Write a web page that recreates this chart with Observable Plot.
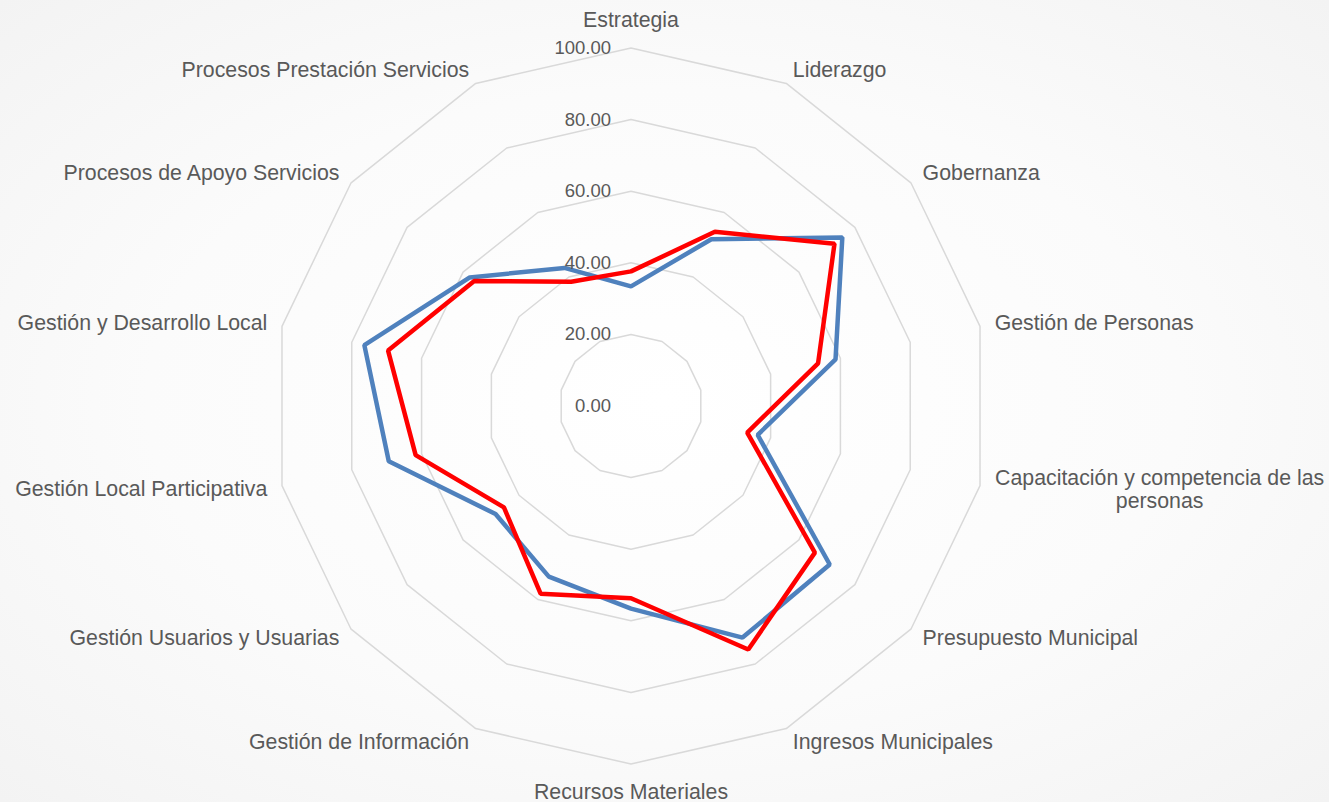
<!DOCTYPE html>
<html>
<head>
<meta charset="utf-8">
<script src="https://cdn.jsdelivr.net/npm/d3@7"></script>
<script src="https://cdn.jsdelivr.net/npm/@observablehq/plot@0.6"></script>
<style>
  html, body { margin: 0; padding: 0; width: 1329px; height: 802px; overflow: hidden; }
  body { background: radial-gradient(ellipse at 50% 50%, #ffffff 0%, #fbfbfb 55%, #f3f3f3 100%); }
</style>
</head>
<body>
<div id="chart"></div>
<script>
// ---- data ----
const categories = [
  "Estrategia",
  "Liderazgo",
  "Gobernanza",
  "Gestión de Personas",
  "Capacitación y competencia de las personas",
  "Presupuesto Municipal",
  "Ingresos Municipales",
  "Recursos Materiales",
  "Gestión de Información",
  "Gestión Usuarios y Usuarias",
  "Gestión Local Participativa",
  "Gestión y Desarrollo Local",
  "Procesos de Apoyo Servicios",
  "Procesos Prestación Servicios"
];
const serieAzul = [33.4, 51.7, 75.5, 58.6, 36.3, 71.0, 71.8, 56.6, 52.9, 48.4, 69.4, 76.4, 57.6, 42.8];
const serieRoja = [37.6, 54.0, 72.7, 53.6, 33.3, 65.7, 75.5, 53.7, 58.2, 45.4, 61.7, 69.6, 56.0, 38.5];
const seriesNames = ["Serie 1", "Serie 2"];
const seriesColors = ["#4f81bd", "#ff0000"];
const tickValues = [0, 20, 40, 60, 80, 100];
const tickLabels = ["0.00", "20.00", "40.00", "60.00", "80.00", "100.00"];

// ---- geometry ----
const W = 1329, H = 802, cx = 630.5, cy = 405.5, k = 3.58; // px per unit
const n = categories.length;
const ang = i => (2 * Math.PI * i) / n;

const rings = [];
tickValues.filter(v => v > 0).forEach(v => {
  categories.forEach((c, i) => rings.push({level: v, x: v * Math.sin(ang(i)), y: v * Math.cos(ang(i))}));
});

const seriesPts = [];
[serieAzul, serieRoja].forEach((vals, s) => {
  vals.forEach((v, i) => seriesPts.push({serie: seriesNames[s], cat: categories[i], x: v * Math.sin(ang(i)), y: v * Math.cos(ang(i))}));
});

const gap = 15 / k;
const labels = categories.map((c, i) => {
  const s = Math.sin(ang(i)), co = Math.cos(ang(i));
  let lx = 100 * s + gap * s, ly = 100 * co + gap * co;
  if (Math.abs(s) < 0.1) ly += Math.sign(co) * 13 / k;
  const anchor = s > 0.1 ? "start" : s < -0.1 ? "end" : "middle";
  return {name: c, x: lx, y: ly, anchor, wrap: c.length > 30};
});

const font = "'Liberation Sans', Arial, sans-serif";
const txt = "#595959";
const fs = 21.3;

const plot = Plot.plot({
  width: W,
  height: H,
  margin: 0,
  x: {domain: [-cx / k, (W - cx) / k], range: [0, W], axis: null},
  y: {domain: [-(H - cy) / k, cy / k], range: [H, 0], axis: null},
  color: {domain: seriesNames, range: seriesColors},
  style: {background: "transparent", fontFamily: font, overflow: "visible"},
  marks: [
    Plot.line(rings, {x: "x", y: "y", z: "level", curve: "linear-closed", stroke: "#d9d9d9", strokeWidth: 1.5}),
    Plot.line(seriesPts, {x: "x", y: "y", z: "serie", stroke: "serie", curve: "linear-closed", strokeWidth: 4.5, strokeLinejoin: "miter"}),
    Plot.text(tickValues.map((v, i) => ({v, label: tickLabels[i]})), {x: () => 0, y: "v", text: "label", textAnchor: "end", dx: -20, fontSize: 18.5, fill: txt}),
    Plot.text(labels.filter(d => d.anchor === "start" && !d.wrap), {x: "x", y: "y", text: "name", textAnchor: "start", fontSize: fs, fill: txt}),
    Plot.text(labels.filter(d => d.anchor === "end"), {x: "x", y: "y", text: "name", textAnchor: "end", fontSize: fs, fill: txt}),
    Plot.text(labels.filter(d => d.anchor === "middle"), {x: "x", y: "y", text: "name", textAnchor: "middle", fontSize: fs, fill: txt}),
    Plot.text(labels.filter(d => d.wrap), {x: "x", y: "y", text: "name", textAnchor: "middle", dx: 165, lineWidth: 17.5, lineHeight: 1.08, fontSize: fs, fill: txt})
  ]
});
document.getElementById("chart").appendChild(plot);
</script>
</body>
</html>
